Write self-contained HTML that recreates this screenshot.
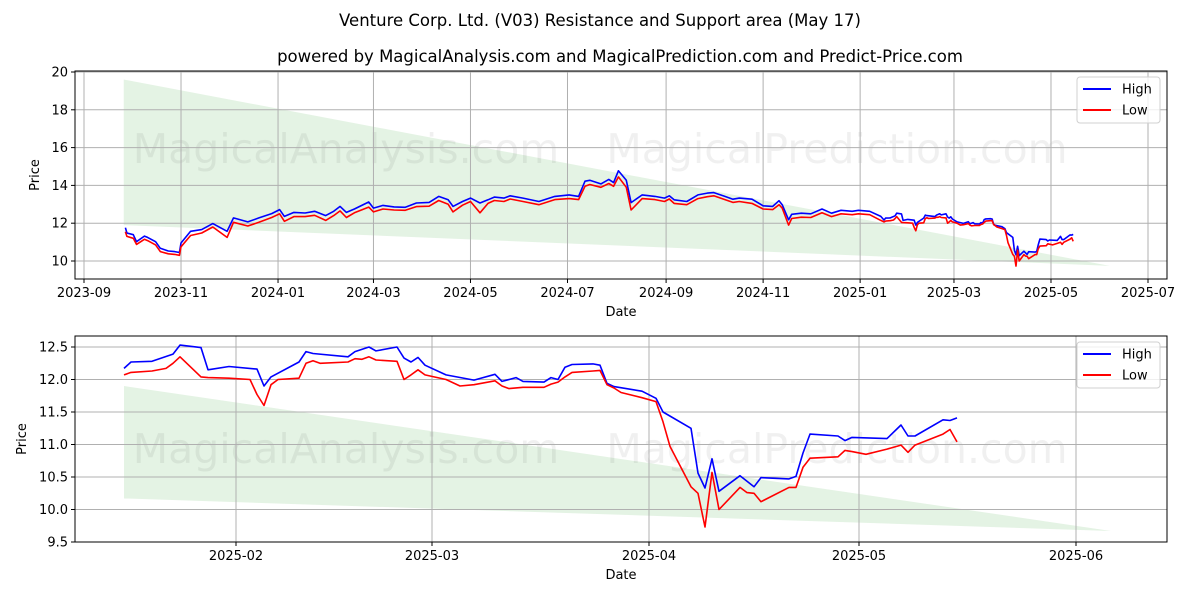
<!DOCTYPE html>
<html><head><meta charset="utf-8">
<style>
html,body{margin:0;padding:0;background:#fff;}
svg{display:block;font-family:"DejaVu Sans","Liberation Sans",sans-serif;}
</style></head>
<body>
<svg id="chart" width="1200" height="600" viewBox="0 0 1200 600" xmlns="http://www.w3.org/2000/svg">
<rect width="1200" height="600" fill="#fff"/>
<text x="600" y="26" text-anchor="middle" font-size="16.5" fill="#000">Venture Corp. Ltd. (V03) Resistance and Support area (May 17)</text>
<text x="620" y="62" text-anchor="middle" font-size="16.5" fill="#000">powered by MagicalAnalysis.com and MagicalPrediction.com and Predict-Price.com</text>
<g id="top"></g>
<g id="bottom"></g>
</svg>
<script>
// ---- data: top panel (earlier history, through mid-Jan 2025) ----
const topDates = ["2023-09-27","2023-09-28","2023-10-02","2023-10-04","2023-10-09","2023-10-11","2023-10-16","2023-10-19","2023-10-24","2023-10-28","2023-10-31","2023-11-01","2023-11-07","2023-11-14","2023-11-21","2023-11-30","2023-12-04","2023-12-13","2023-12-20","2023-12-28","2024-01-02","2024-01-05","2024-01-11","2024-01-18","2024-01-24","2024-01-31","2024-02-05","2024-02-09","2024-02-13","2024-02-18","2024-02-27","2024-03-01","2024-03-07","2024-03-14","2024-03-21","2024-03-28","2024-04-05","2024-04-11","2024-04-17","2024-04-20","2024-04-26","2024-05-01","2024-05-07","2024-05-12","2024-05-16","2024-05-22","2024-05-26","2024-06-03","2024-06-13","2024-06-23","2024-07-02","2024-07-08","2024-07-12","2024-07-15","2024-07-22","2024-07-27","2024-07-30","2024-08-02","2024-08-07","2024-08-10","2024-08-17","2024-08-25","2024-08-31","2024-09-03","2024-09-06","2024-09-14","2024-09-21","2024-09-27","2024-10-01","2024-10-08","2024-10-13","2024-10-17","2024-10-25","2024-11-01","2024-11-07","2024-11-11","2024-11-13","2024-11-17","2024-11-19","2024-11-25","2024-12-01","2024-12-08","2024-12-14","2024-12-20","2024-12-27","2024-12-31","2025-01-07","2025-01-14"];
const topHigh = [11.76,11.48,11.39,11.02,11.32,11.25,11.02,10.67,10.53,10.5,10.45,10.95,11.57,11.66,11.98,11.57,12.28,12.07,12.28,12.51,12.72,12.36,12.57,12.54,12.63,12.4,12.63,12.89,12.57,12.75,13.12,12.8,12.94,12.86,12.84,13.07,13.1,13.42,13.24,12.89,13.15,13.33,13.07,13.24,13.38,13.33,13.45,13.33,13.15,13.42,13.5,13.42,14.22,14.27,14.08,14.32,14.15,14.77,14.27,13.09,13.5,13.42,13.33,13.45,13.24,13.15,13.5,13.59,13.62,13.42,13.27,13.33,13.27,12.92,12.89,13.19,12.98,12.18,12.47,12.53,12.5,12.75,12.53,12.68,12.63,12.68,12.63,12.36];
const topLow = [11.55,11.3,11.2,10.88,11.15,11.08,10.85,10.5,10.38,10.35,10.3,10.75,11.35,11.48,11.8,11.25,12.05,11.85,12.05,12.3,12.5,12.1,12.35,12.35,12.42,12.15,12.4,12.65,12.3,12.55,12.85,12.6,12.75,12.7,12.68,12.88,12.9,13.2,13.0,12.6,12.95,13.15,12.55,13.05,13.2,13.15,13.28,13.15,12.98,13.25,13.3,13.25,13.95,14.05,13.9,14.1,13.95,14.45,13.9,12.7,13.3,13.25,13.15,13.28,13.05,12.98,13.3,13.4,13.45,13.25,13.1,13.15,13.05,12.75,12.72,12.98,12.8,11.9,12.25,12.32,12.3,12.55,12.35,12.5,12.45,12.5,12.45,12.15];
// ---- data: bottom panel (recent months) ----
const hiDates = ["2025-01-16","2025-01-17","2025-01-20","2025-01-23","2025-01-24","2025-01-27","2025-01-28","2025-01-31","2025-02-04","2025-02-05","2025-02-06","2025-02-10","2025-02-11","2025-02-12","2025-02-17","2025-02-18","2025-02-20","2025-02-21","2025-02-24","2025-02-25","2025-02-26","2025-02-27","2025-02-28","2025-03-03","2025-03-07","2025-03-10","2025-03-11","2025-03-13","2025-03-14","2025-03-17","2025-03-18","2025-03-19","2025-03-20","2025-03-21","2025-03-24","2025-03-25","2025-03-26","2025-03-27","2025-03-31","2025-04-02","2025-04-03","2025-04-07","2025-04-08","2025-04-09","2025-04-10","2025-04-11","2025-04-14","2025-04-16","2025-04-17","2025-04-21","2025-04-22","2025-04-23","2025-04-24","2025-04-28","2025-04-29","2025-04-30","2025-05-05","2025-05-07","2025-05-08","2025-05-09","2025-05-13","2025-05-14","2025-05-15"];
const hiValues = [12.17,12.27,12.28,12.39,12.53,12.49,12.15,12.2,12.16,11.9,12.04,12.27,12.43,12.4,12.35,12.43,12.5,12.44,12.5,12.33,12.27,12.34,12.22,12.07,11.99,12.08,11.97,12.03,11.97,11.96,12.03,12.0,12.19,12.23,12.24,12.22,11.94,11.89,11.82,11.71,11.5,11.25,10.56,10.33,10.78,10.28,10.52,10.35,10.49,10.47,10.51,10.87,11.16,11.13,11.06,11.11,11.09,11.3,11.13,11.13,11.38,11.37,11.41];
const loDates = ["2025-01-16","2025-01-17","2025-01-20","2025-01-22","2025-01-23","2025-01-24","2025-01-27","2025-01-28","2025-01-31","2025-02-03","2025-02-04","2025-02-05","2025-02-06","2025-02-07","2025-02-10","2025-02-11","2025-02-12","2025-02-13","2025-02-17","2025-02-18","2025-02-19","2025-02-20","2025-02-21","2025-02-24","2025-02-25","2025-02-26","2025-02-27","2025-02-28","2025-03-03","2025-03-05","2025-03-07","2025-03-10","2025-03-11","2025-03-12","2025-03-14","2025-03-17","2025-03-18","2025-03-19","2025-03-20","2025-03-21","2025-03-24","2025-03-25","2025-03-26","2025-03-27","2025-03-28","2025-03-31","2025-04-02","2025-04-03","2025-04-04","2025-04-07","2025-04-08","2025-04-09","2025-04-10","2025-04-11","2025-04-14","2025-04-15","2025-04-16","2025-04-17","2025-04-21","2025-04-22","2025-04-23","2025-04-24","2025-04-28","2025-04-29","2025-04-30","2025-05-02","2025-05-05","2025-05-07","2025-05-08","2025-05-09","2025-05-13","2025-05-14","2025-05-15"];
const loValues = [12.07,12.11,12.13,12.17,12.25,12.35,12.04,12.03,12.02,12.0,11.77,11.6,11.92,12.0,12.02,12.25,12.29,12.25,12.27,12.32,12.31,12.35,12.3,12.28,12.0,12.07,12.15,12.07,12.0,11.9,11.92,11.98,11.9,11.86,11.88,11.88,11.93,11.96,12.04,12.11,12.13,12.14,11.92,11.87,11.8,11.72,11.66,11.35,10.97,10.35,10.25,9.73,10.57,10.0,10.34,10.26,10.25,10.12,10.34,10.34,10.65,10.79,10.81,10.91,10.89,10.85,10.93,10.99,10.88,10.99,11.16,11.23,11.04];
// support/resistance band: [start date, end date], resistance/support values at start & end
const bandDates = ["2023-09-26","2025-06-07"];
const bandTop = [19.6, 9.74];
const bandBottom = [11.9, 9.74];
const bandDatesB = ["2025-01-16","2025-06-06"];
const bandTopB = [11.9, 9.67];
const bandBottomB = [10.17, 9.67];
const topYTicks = [10,12,14,16,18,20];
const topXTicks = ["2023-09","2023-11","2024-01","2024-03","2024-05","2024-07","2024-09","2024-11","2025-01","2025-03","2025-05","2025-07"];
const botYTicks = [9.5,10.0,10.5,11.0,11.5,12.0,12.5];
const botXTicks = ["2025-02","2025-03","2025-04","2025-05","2025-06"];

const NS = "http://www.w3.org/2000/svg";
const DAY = 86400000;
function t(s){ return Date.parse(s.length===7? s+"-01T00:00:00Z" : s+"T00:00:00Z"); }
function mk(parent, tag, attrs, text){
  const e = document.createElementNS(NS, tag);
  for (const k in attrs) e.setAttribute(k, attrs[k]);
  if (text !== undefined) e.textContent = text;
  parent.appendChild(e); return e;
}

function panel(g, o){
  const L=o.left,R=o.right,T=o.top,B=o.bottom;
  const xs = d => o.x0 + (t(d)-t(o.d0))/DAY*o.pxDay;
  const ys = v => o.yAt + (o.vAt - v)*o.pxUnit;
  const band = mk(g,"polygon",{points:[
    [xs(o.bd[0]),ys(o.bt[0])],[xs(o.bd[1]),ys(o.bt[1])],[xs(o.bd[1]),ys(o.bb[1])],[xs(o.bd[0]),ys(o.bb[0])]
  ].map(p=>p.join(",")).join(" "), fill:"#2ca02c", "fill-opacity":"0.13"});
  
  
  const w1 = mk(g,"text",{x:(L+R)/2-275,y:o.wmY,"text-anchor":"middle","font-size":"41",fill:"#000","fill-opacity":"0.06"},"MagicalAnalysis.com");
  
  
  const w2 = mk(g,"text",{x:(L+R)/2+216,y:o.wmY,"text-anchor":"middle","font-size":"41",fill:"#000","fill-opacity":"0.06"},"MagicalPrediction.com");
  
  
  o.yTicks.forEach(v=>{
    const y=ys(v);
    const gl = mk(g,"line",{x1:L,x2:R,y1:y,y2:y,stroke:"#b0b0b0","stroke-width":"1"});
    
    
    mk(g,"line",{x1:L-4,x2:L,y1:y,y2:y,stroke:"#000"});
    const tl = mk(g,"text",{x:L-7,y:y+4.5,"text-anchor":"end","font-size":"13"}, o.yFmt(v));
    
    
  });
  o.xTicks.forEach(d=>{
    const x=xs(d);
    const gl = mk(g,"line",{x1:x,x2:x,y1:T,y2:B,stroke:"#b0b0b0","stroke-width":"1"});
    
    
    mk(g,"line",{x1:x,x2:x,y1:B,y2:B+4,stroke:"#000"});
    const tl = mk(g,"text",{x:x,y:B+18,"text-anchor":"middle","font-size":"13"}, d);
    
    
  });
  const series = [[o.hd,o.hv,"#0000ff","high-line"],[o.ld,o.lv,"#ff0000","low-line"]];
  series.forEach(s=>{
    const pts = s[0].map((d,i)=>xs(d).toFixed(1)+","+ys(s[1][i]).toFixed(1)).join(" ");
    const pl = mk(g,"polyline",{points:pts,fill:"none",stroke:s[2],"stroke-width":"1.6","stroke-linejoin":"round"});
    
    
  });
  const fr = mk(g,"rect",{x:L,y:T,width:R-L,height:B-T,fill:"none",stroke:"#000","stroke-width":"1"});
  
  
  const xt = mk(g,"text",{x:(L+R)/2,y:B+37,"text-anchor":"middle","font-size":"13"},"Date");
  
  
  const yc=(T+B)/2;
  const yt = mk(g,"text",{x:o.yTitleX,y:yc,"text-anchor":"middle","font-size":"13",transform:"rotate(-90 "+o.yTitleX+" "+yc+")"},"Price");
  
  
  const lg = mk(g,"g",{});
  
  
  const ly=T+6;
  mk(lg,"rect",{x:1077,y:ly,width:83,height:46,rx:3,fill:"#fff","fill-opacity":"0.8",stroke:"#d0d0d0"});
  [["High","#0000ff",ly+12],["Low","#ff0000",ly+33]].forEach(e=>{
    const it = mk(lg,"g",{});
    
    
    mk(it,"line",{x1:1083,x2:1111,y1:e[2],y2:e[2],stroke:e[1],"stroke-width":"2"});
    mk(it,"text",{x:1122,y:e[2]+4.5,"font-size":"13"},e[0]);
  });
}

panel(document.getElementById("top"),{
  name:"top-chart",left:75,right:1167,top:71,bottom:279,
  d0:"2023-09-01",x0:84,pxDay:1064/669,yAt:261,vAt:10,pxUnit:18.9,
  yTicks:topYTicks,xTicks:topXTicks,yFmt:v=>String(v),yTitleX:39,wmY:163,
  bd:bandDates,bt:bandTop,bb:bandBottom,
  hd:topDates.concat(hiDates),hv:topHigh.concat(hiValues),
  ld:topDates.concat(loDates),lv:topLow.concat(loValues)
});
panel(document.getElementById("bottom"),{
  name:"bottom-chart",left:75,right:1167,top:336,bottom:542,
  d0:"2025-02-01",x0:236,pxDay:7.0,yAt:347,vAt:12.5,pxUnit:65,
  yTicks:botYTicks,xTicks:botXTicks,yFmt:v=>v.toFixed(1),yTitleX:26,wmY:463,
  bd:bandDatesB,bt:bandTopB,bb:bandBottomB,
  hd:hiDates,hv:hiValues,ld:loDates,lv:loValues
});
</script>
</body></html>
